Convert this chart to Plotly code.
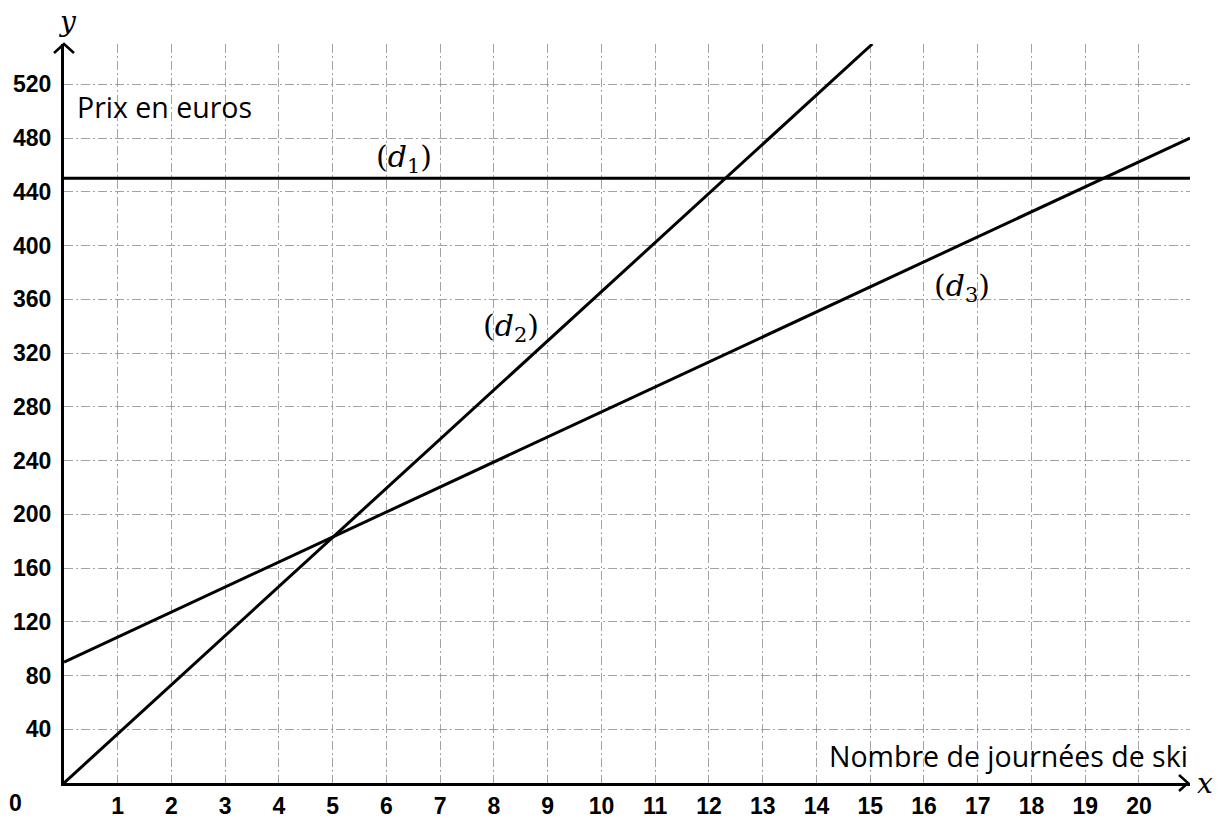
import plotly.graph_objects as go

# ---- data ----
d1_x = [0, 20.95]
d1_y = [450, 450]
d2_x = [0, 15.04]
d2_y = [0, 550]
d3_x = [0, 20.95]
d3_y = [90, 480]

x_ticks = [1, 2, 3, 4, 5, 6, 7, 8, 9, 10, 11, 12, 13, 14, 15, 16, 17, 18, 19, 20]
y_ticks = [40, 80, 120, 160, 200, 240, 280, 320, 360, 400, 440, 480, 520]

X_RANGE = [0, 20.95]
Y_RANGE = [0, 550]

fig = go.Figure()
for xs, ys, name in [(d1_x, d1_y, "d1"), (d2_x, d2_y, "d2"), (d3_x, d3_y, "d3")]:
    fig.add_trace(go.Scatter(x=xs, y=ys, mode="lines", name=name,
                             line=dict(color="black", width=3), showlegend=False,
                             hoverinfo="skip"))


def tickfont():
    return dict(family="Liberation Sans, Arial", size=23, color="black", weight="bold")


gridcol = "rgba(140,140,140,0.8)"
gdash = "9px,3px,2px,3px"

fig.update_layout(
    width=1226, height=821,
    margin=dict(l=64, r=36, t=44, b=38, autoexpand=False),
    paper_bgcolor="white", plot_bgcolor="white",
    xaxis=dict(range=X_RANGE, tickmode="array", tickvals=x_ticks,
               ticktext=[str(v) for v in x_ticks], tickfont=tickfont(),
               showgrid=True, gridcolor=gridcol, gridwidth=1, griddash=gdash,
               zeroline=False, showline=True, linecolor="black", linewidth=3,
               ticks="", ticklabelstandoff=0, automargin=False, fixedrange=True),
    yaxis=dict(range=Y_RANGE, tickmode="array", tickvals=y_ticks,
               ticktext=[str(v) for v in y_ticks], tickfont=tickfont(),
               showgrid=True, gridcolor=gridcol, gridwidth=1, griddash=gdash,
               zeroline=False, showline=True, linecolor="black", linewidth=3,
               ticks="", ticklabelstandoff=5, automargin=False, fixedrange=True),
)

# arrow heads (open chevrons) at the end of each axis (paper refs -> not clipped)
fig.add_shape(type="path", xref="paper", yref="paper", xsizemode="pixel", ysizemode="pixel",
              xanchor=0, yanchor=1,
              path="M -10 -9 L 0 0 L 10 -9", line=dict(color="black", width=2.5))
fig.add_shape(type="path", xref="paper", yref="paper", xsizemode="pixel", ysizemode="pixel",
              xanchor=1, yanchor=0,
              path="M -11 8 L -2 0 L -11 -8", line=dict(color="black", width=2.5))

serif = "DejaVu Serif, Liberation Serif, serif"
sans = "Open Sans, Noto Sans, sans-serif"

# annotations placed outside the axes ranges -> paper coordinates
paper_ann = [
    dict(x=0.0027, y=1.03, text="<i>y</i>", font=dict(family=serif, size=28, color="black")),
    dict(x=1.0135, y=0.0, text="<i>x</i>", font=dict(family=serif, size=28, color="black")),
    dict(x=-0.0435, y=-0.027, text="0", font=tickfont()),
]
for a in paper_ann:
    fig.add_annotation(xref="paper", yref="paper", showarrow=False,
                       xanchor="center", yanchor="middle", **a)

data_ann = [
    dict(x=6.32, y=465, text="(<i>d</i><sub>1</sub>)", xanchor="center",
         font=dict(family=serif, size=30, color="black")),
    dict(x=8.31, y=339, text="(<i>d</i><sub>2</sub>)", xanchor="center",
         font=dict(family=serif, size=30, color="black")),
    dict(x=16.7, y=369, text="(<i>d</i><sub>3</sub>)", xanchor="center",
         font=dict(family=serif, size=30, color="black")),
    dict(x=0.21, y=503, text="Prix en euros", xanchor="left",
         font=dict(family=sans, size=28.5, color="black")),
    dict(x=20.95, y=20, text="Nombre de journées de ski", xanchor="right",
         font=dict(family=sans, size=28.5, color="black")),
]
for a in data_ann:
    fig.add_annotation(xref="x", yref="y", showarrow=False, yanchor="middle", **a)

fig.write_html("out.html", config={"displayModeBar": False},
               post_script="document.body.style.margin='0px';document.body.style.overflow='hidden';")
